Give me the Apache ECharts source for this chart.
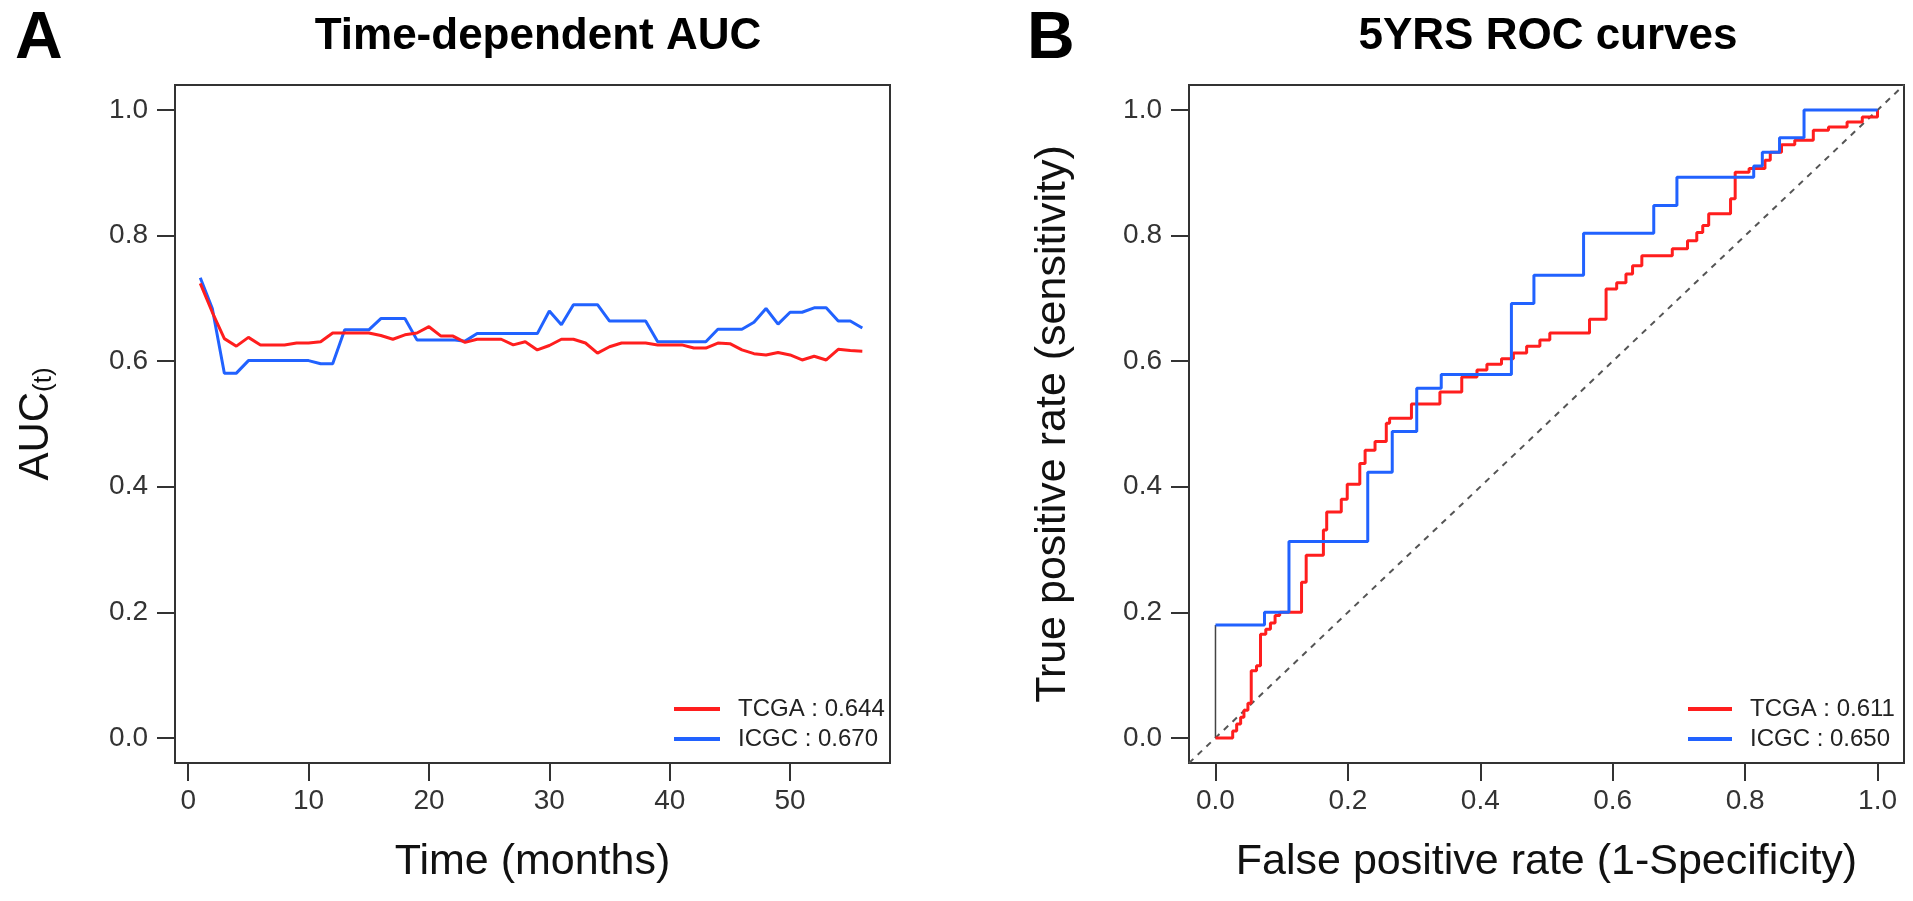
<!DOCTYPE html>
<html><head><meta charset="utf-8">
<script src="https://cdn.jsdelivr.net/npm/echarts@6/dist/echarts.min.js"></script>
<style>html,body{margin:0;padding:0;background:#fff}#c{width:1913px;height:901px}</style>
</head><body><div id="c"></div>
<script>
// ---- Panel A: time-dependent AUC ----
const months = [1,2,3,4,5,6,7,8,9,10,11,12,13,14,15,16,17,18,19,20,21,22,23,24,25,26,27,28,29,30,31,32,33,34,35,36,37,38,39,40,41,42,43,44,45,46,47,48,49,50,51,52,53,54,55,56];
const tcgaAuc = [0.724,0.678,0.636,0.624,0.638,0.626,0.626,0.626,0.629,0.629,0.631,0.645,0.645,0.645,0.645,0.641,0.635,0.642,0.645,0.655,0.640,0.640,0.630,0.635,0.635,0.635,0.626,0.631,0.618,0.625,0.635,0.635,0.629,0.613,0.623,0.629,0.629,0.629,0.626,0.626,0.626,0.621,0.621,0.629,0.628,0.618,0.612,0.610,0.614,0.610,0.602,0.608,0.602,0.619,0.617,0.616];
const icgcAuc = [0.733,0.684,0.581,0.581,0.601,0.601,0.601,0.601,0.601,0.601,0.596,0.596,0.650,0.650,0.650,0.668,0.668,0.668,0.634,0.634,0.634,0.634,0.632,0.644,0.644,0.644,0.644,0.644,0.644,0.680,0.658,0.690,0.690,0.690,0.664,0.664,0.664,0.664,0.631,0.631,0.631,0.631,0.631,0.651,0.651,0.651,0.662,0.684,0.659,0.678,0.678,0.685,0.685,0.664,0.664,0.653];
const timeTicks = [0,10,20,30,40,50];
const aucTicks = [0,0.2,0.4,0.6,0.8,1.0];
const legendA = ['TCGA : 0.644','ICGC : 0.670'];

// ---- Panel B: 5-year ROC curves (step points) ----
const tcgaFpr = [0,0.026,0.032,0.038,0.043,0.049,0.054,0.062,0.068,0.076,0.083,0.090,0.097,0.130,0.137,0.163,0.168,0.190,0.199,0.218,0.226,0.241,0.258,0.263,0.296,0.339,0.372,0.395,0.410,0.432,0.450,0.470,0.490,0.505,0.565,0.590,0.606,0.620,0.630,0.644,0.690,0.713,0.727,0.736,0.745,0.778,0.785,0.806,0.830,0.838,0.855,0.875,0.903,0.926,0.954,0.977,1.0];
const tcgaTpr = [0,0.011,0.022,0.033,0.044,0.055,0.107,0.115,0.165,0.173,0.183,0.195,0.200,0.248,0.291,0.331,0.360,0.380,0.404,0.437,0.458,0.472,0.501,0.509,0.532,0.551,0.575,0.586,0.595,0.604,0.613,0.624,0.634,0.645,0.667,0.715,0.725,0.739,0.752,0.768,0.779,0.792,0.805,0.816,0.835,0.859,0.901,0.907,0.920,0.933,0.945,0.952,0.968,0.973,0.981,0.989,1.0];
const icgcFpr = [0,0.074,0.111,0.230,0.267,0.304,0.341,0.447,0.481,0.556,0.662,0.697,0.813,0.826,0.852,0.889,1.0];
const icgcTpr = [0.18,0.200,0.313,0.423,0.488,0.557,0.579,0.692,0.737,0.804,0.848,0.893,0.911,0.933,0.956,1.0,1.0];
const icgcStartFpr = [0,0];
const icgcStartTpr = [0,0.18];
const diagonal = [-0.04,1.04];
const rateTicks = [0,0.2,0.4,0.6,0.8,1.0];
const legendB = ['TCGA : 0.611','ICGC : 0.650'];

const RED = '#FF1E1E', BLUE = '#2162FF';
const FONT = 'Liberation Sans';
const pairs = (xs, ys) => xs.map((x, i) => [x, ys[i]]);

const chart = echarts.init(document.getElementById('c'), null, {renderer: 'canvas'});

function xAxisCfg(idx, min, max, ticks, name, fmt) {
  return {
    type: 'value', gridIndex: idx, min: min, max: max, position: 'bottom',
    name: name, nameLocation: 'middle', nameGap: 78,
    nameTextStyle: {fontFamily: FONT, fontSize: 43, color: '#111'},
    axisLine: {show: false, onZero: false},
    splitLine: {show: false},
    axisTick: {show: true, inside: false, length: 18, customValues: ticks, lineStyle: {color: '#333', width: 2}},
    axisLabel: {show: true, customValues: ticks, margin: 24, fontFamily: FONT, fontSize: 28, color: '#333', formatter: fmt}
  };
}
function yAxisCfg(idx, ticks, name, gap, rich) {
  return {
    type: 'value', gridIndex: idx, min: -0.04, max: 1.04, position: 'left',
    name: name, nameLocation: 'middle', nameGap: gap, nameRotate: 90,
    nameTextStyle: {fontFamily: FONT, fontSize: 43, color: '#111', rich: rich},
    axisLine: {show: false, onZero: false},
    splitLine: {show: false},
    axisTick: {show: true, inside: false, length: 18, customValues: ticks, lineStyle: {color: '#333', width: 2}},
    axisLabel: {show: true, customValues: ticks, margin: 27, fontFamily: FONT, fontSize: 28, color: '#333', formatter: v => v.toFixed(1)}
  };
}

const option = {
  animation: false,
  backgroundColor: '#fff',
  title: [
    {text: 'A', left: 10, top: 2, textStyle: {fontFamily: FONT, fontSize: 66, fontWeight: 'bold', color: '#000'}},
    {text: 'B', left: 1022, top: 2, textStyle: {fontFamily: FONT, fontSize: 66, fontWeight: 'bold', color: '#000'}},
    {text: 'Time-dependent AUC', left: 533, top: 10, textAlign: 'center', textStyle: {fontFamily: FONT, fontSize: 44, fontWeight: 'bold', color: '#000'}},
    {text: '5YRS ROC curves', left: 1543, top: 10, textAlign: 'center', textStyle: {fontFamily: FONT, fontSize: 44, fontWeight: 'bold', color: '#000'}}
  ],
  grid: [
    {left: 175, top: 85, width: 715, height: 678, show: true, borderColor: '#333', borderWidth: 2, backgroundColor: 'transparent'},
    {left: 1189, top: 85, width: 715, height: 678, show: true, borderColor: '#333', borderWidth: 2, backgroundColor: 'transparent'}
  ],
  xAxis: [
    xAxisCfg(0, -1.1, 58.3, timeTicks, 'Time (months)', v => String(v)),
    xAxisCfg(1, -0.04, 1.04, rateTicks, 'False positive rate (1-Specificity)', v => v.toFixed(1))
  ],
  yAxis: [
    yAxisCfg(0, aucTicks, '{m|AUC}{s|(t)}', 118, {
      m: {fontFamily: FONT, fontSize: 42, color: '#111'},
      s: {fontFamily: FONT, fontSize: 26, color: '#111', verticalAlign: 'bottom', padding: [14, 0, 0, 0]}
    }),
    yAxisCfg(1, rateTicks, 'True positive rate (sensitivity)', 114, undefined)
  ],
  legend: [
    {data: legendA, orient: 'vertical', left: 669, top: 692, itemWidth: 46, itemHeight: 4, itemGap: 6, icon: 'rect',
     textStyle: {fontFamily: FONT, fontSize: 24, color: '#222', padding: [0, 0, 0, 13]}},
    {data: legendB, orient: 'vertical', left: 1683, top: 692, itemWidth: 44, itemHeight: 4, itemGap: 6, icon: 'rect',
     textStyle: {fontFamily: FONT, fontSize: 24, color: '#222', padding: [0, 0, 0, 13]}}
  ],
  series: [
    {name: legendA[0], type: 'line', xAxisIndex: 0, yAxisIndex: 0, data: pairs(months, tcgaAuc), symbol: 'none', color: RED, lineStyle: {color: RED, width: 3}, z: 3},
    {name: legendA[1], type: 'line', xAxisIndex: 0, yAxisIndex: 0, data: pairs(months, icgcAuc), symbol: 'none', color: BLUE, lineStyle: {color: BLUE, width: 3}, z: 2},
    {name: 'diag', type: 'line', xAxisIndex: 1, yAxisIndex: 1, data: pairs(diagonal, diagonal), symbol: 'none', lineStyle: {color: '#555', width: 2, type: [6, 6]}, z: 1},
    {name: 'start', type: 'line', xAxisIndex: 1, yAxisIndex: 1, data: pairs(icgcStartFpr, icgcStartTpr), symbol: 'none', lineStyle: {color: '#444', width: 1.5}, z: 1},
    {name: legendB[0], type: 'line', xAxisIndex: 1, yAxisIndex: 1, data: pairs(tcgaFpr, tcgaTpr), step: 'end', symbol: 'none', color: RED, lineStyle: {color: RED, width: 3}, z: 3},
    {name: legendB[1], type: 'line', xAxisIndex: 1, yAxisIndex: 1, data: pairs(icgcFpr, icgcTpr), step: 'end', symbol: 'none', color: BLUE, lineStyle: {color: BLUE, width: 3}, z: 4}
  ]
};
chart.setOption(option);
</script>
</body></html>
